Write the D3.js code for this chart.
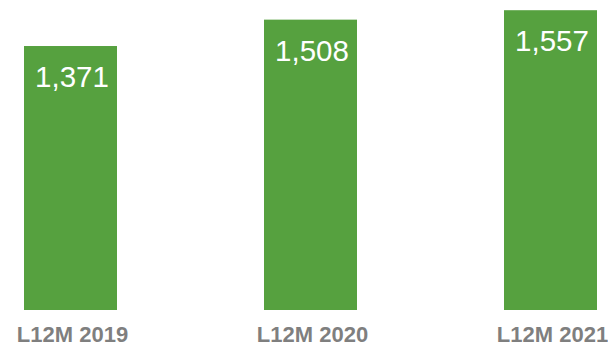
<!DOCTYPE html>
<html><head><meta charset="utf-8">
<script src="https://cdn.jsdelivr.net/npm/d3@7"></script>
<style>html,body{margin:0;padding:0;background:#fff;}svg{display:block;}</style>
</head><body>
<svg id="chart" width="608" height="348"></svg>
<script>
const categories = ["L12M 2019", "L12M 2020", "L12M 2021"];
const values = [1371, 1508, 1557];

const svg = d3.select("#chart");
const x = d3.scaleBand().domain(categories).range([0, 621]).paddingInner(0.6125).paddingOuter(0.1);
const y = d3.scaleLinear().domain([0, 1610]).range([310, 0]);
const fmt = d3.format(",");

svg.selectAll("rect.bar").data(values).join("rect")
  .attr("class", "bar")
  .attr("x", (d, i) => x(categories[i]))
  .attr("y", d => y(d))
  .attr("width", x.bandwidth())
  .attr("height", d => y(0) - y(d))
  .attr("fill", "#56A13F");

svg.selectAll("text.val").data(values).join("text")
  .attr("class", "val")
  .attr("x", (d, i) => x(categories[i]) + x.bandwidth() / 2 + 1.5)
  .attr("y", d => y(d) + 41)
  .attr("text-anchor", "middle")
  .attr("font-family", "Liberation Sans, Arial, sans-serif")
  .attr("font-size", 29.5)
  .attr("fill", "#ffffff")
  .text(d => fmt(d));

const xAxis = d3.axisBottom(x).tickSize(0).tickPadding(0);
const gx = svg.append("g").attr("transform", "translate(0,342)").call(xAxis);
gx.select(".domain").remove();
gx.selectAll("text")
  .attr("dy", 0).attr("y", 0).attr("dx", 2)
  .attr("font-family", "Liberation Sans, Arial, sans-serif")
  .attr("font-size", 22)
  .attr("font-weight", "bold")
  .attr("fill", "#7f7f7f");
</script>
</body></html>
